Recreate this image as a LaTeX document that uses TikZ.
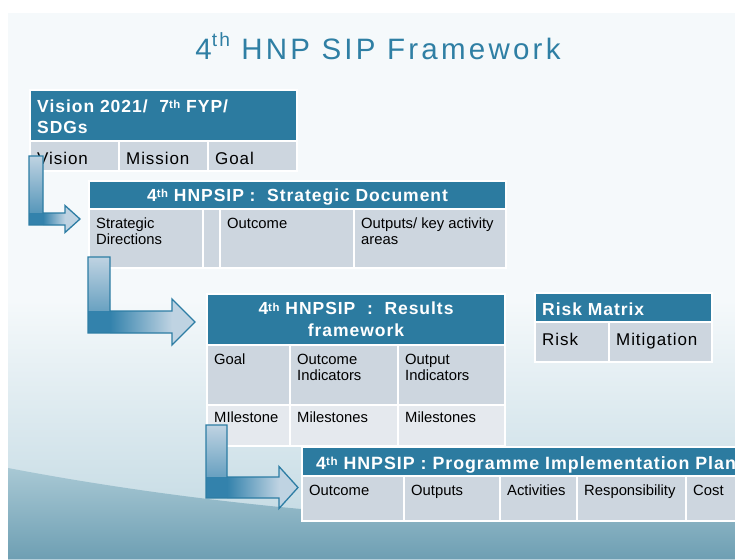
\documentclass[tikz,border=0pt]{standalone}
\usepackage{fontspec}
\usepackage{graphicx}
\setmainfont{Liberation Sans}
\newfontfamily\titlefamily{Liberation Sans}[LetterSpace=11]
\newfontfamily\spacedfamily{Liberation Sans}[LetterSpace=5.5]

\definecolor{hnpteal}{HTML}{2C7BA0}
\definecolor{titleteal}{HTML}{2F7FA4}
\definecolor{cellgray}{HTML}{CDD6DF}
\definecolor{cellpale}{HTML}{E5E9EE}
\definecolor{arrowdark}{HTML}{3382AC}
\definecolor{arrowlight}{HTML}{BFD3E2}
\definecolor{arrowedge}{HTML}{2D7DA4}
\definecolor{slidebg}{HTML}{F5F9FB}
\definecolor{wavepale}{HTML}{BDD6E0}
\definecolor{wavetop}{HTML}{A8C8D4}
\definecolor{wavebottom}{HTML}{6E9FB3}

% small raised "th"
\newcommand{\supth}[1][0.2]{\raisebox{#1em}{\scalebox{0.65}{th}}}

% bent arrow: stem left x, stem right x, stem top y, bar top y, bar bottom y,
% head base x, tip x, half head height
\newcommand{\bentarrow}[8]{%
  \filldraw[bent, path picture={
      \shade[top color=arrowlight, bottom color=arrowdark] (#1,#3) rectangle (#2,#4);
      \fill[arrowdark] (#1,#4) rectangle (#2,#5);
      \shade[left color=arrowdark, right color=arrowlight] (#2,#4) rectangle (#6,#5);}]
    (#1,#3) -- (#2,#3) -- (#2,#4) -- (#6,#4) -- (#6,{(#4+#5)/2-#8})
    -- (#7,{(#4+#5)/2}) -- (#6,{(#4+#5)/2+#8}) -- (#6,#5) -- (#1,#5) -- cycle;}

\begin{document}
\begin{tikzpicture}[x=1pt, y=-1pt,
    box/.style={draw=white, line width=2pt, outer sep=0pt, inner sep=0pt, anchor=north west},
    hdr/.style 2 args={box, fill=hnpteal, minimum width=#1pt, minimum height=#2pt, text=white,
      font=\spacedfamily\bfseries\fontsize{17.5}{21.7}\selectfont},
    cell/.style 2 args={box, fill=cellgray, minimum width=#1pt, minimum height=#2pt},
    pale/.style={fill=cellpale},
    txt/.style={anchor=north west, inner xsep=7pt, inner ysep=8.5pt, align=left,
      font=\fontsize{14.8}{16.5}\selectfont},
    bigtxt/.style={txt, inner ysep=10.5pt, font=\spacedfamily\fontsize{17}{20}\selectfont},
    hdrtxt/.style={anchor=north west, inner xsep=7pt, inner ysep=9.2pt, align=left, text=white,
      font=\spacedfamily\bfseries\fontsize{17.5}{21.7}\selectfont},
    bent/.style={fill=arrowlight, draw=arrowedge, line width=1.3pt}]

  \useasboundingbox (0,0) rectangle (735,559);
  \clip (0,0) rectangle (735,559);

  % slide background
  \fill[white] (0,0) rectangle (735,559);
  \fill[slidebg] (8,13) rectangle (735,559);
  \shade[top color=slidebg, bottom color=wavepale] (8,300) rectangle (735,559);
  \shade[top color=wavetop, bottom color=wavebottom]
    (8,468) .. controls (150,495) and (420,535) .. (735,518) -- (735,559) -- (8,559) -- cycle;

  \node[font=\titlefamily\fontsize{29.5}{34}\selectfont, text=titleteal, anchor=base] (title)
    at (378,60) {4\supth[0.45] HNP SIP Framework};

  % vision / FYP / SDGs
  \node[hdr={267}{51}, label={[hdrtxt]north west:{Vision 2021/\ \ 7\supth{} FYP/\\SDGs}}] (vishead) at (30,90) {};
  \node[cell={89}{30}, label={[bigtxt]north west:Vision}] (vision) at (30,141) {};
  \node[cell={89}{30}, label={[bigtxt]north west:Mission}] (mission) at (119,141) {};
  \node[cell={89}{30}, label={[bigtxt]north west:Goal}] (visgoal) at (208,141) {};

  % strategic document
  \node[hdr={417}{28}, text depth=0pt] (strathead) at (89,181) {4\supth{} HNPSIP :~~Strategic Document};
  \node[cell={114}{59}, label={[txt]north west:{Strategic\\Directions}}] (stratdir) at (89,209) {};
  \node[cell={17}{59}] (stratgap) at (203,209) {};
  \node[cell={134}{59}, label={[txt]north west:Outcome}] (stratout) at (220,209) {};
  \node[cell={152}{59}, label={[txt]north west:{Outputs/ key activity\\areas}}] (stratkey) at (354,209) {};

  % results framework
  \node[hdr={298}{51}, align=center] (reshead) at (207,294) {4\supth{} HNPSIP~~:~~Results\\framework};
  \node[cell={83}{60}, label={[txt]north west:Goal}] (resgoal) at (207,345) {};
  \node[cell={108}{60}, label={[txt]north west:{Outcome\\Indicators}}] (resoutcome) at (290,345) {};
  \node[cell={107}{60}, label={[txt]north west:{Output\\Indicators}}] (resoutput) at (398,345) {};
  \node[cell={83}{41}, pale, label={[txt, inner ysep=7pt]north west:MIlestone}] (mile1) at (207,405) {};
  \node[cell={108}{41}, pale, label={[txt, inner ysep=7pt]north west:Milestones}] (mile2) at (290,405) {};
  \node[cell={107}{41}, pale, label={[txt, inner ysep=7pt]north west:Milestones}] (mile3) at (398,405) {};

  % risk matrix
  \node[hdr={177}{29}, label={[hdrtxt]north west:Risk Matrix}] (riskhead) at (535,293) {};
  \node[cell={74}{40}, label={[bigtxt]north west:Risk}] (risk) at (535,322) {};
  \node[cell={103}{40}, label={[bigtxt]north west:Mitigation}] (mitigation) at (609,322) {};

  % programme implementation plan
  \node[hdr={460}{29}, label={[hdrtxt, inner xsep=14pt, font=\spacedfamily\bfseries\fontsize{17.8}{21.7}\selectfont]north west:{4\supth{} HNPSIP : Programme Implementation Plan}}] (planhead) at (302,447) {};
  \node[cell={102}{45}, label={[txt]north west:Outcome}] (planout) at (302,476) {};
  \node[cell={96}{45}, label={[txt]north west:Outputs}] (planoutputs) at (404,476) {};
  \node[cell={77}{45}, label={[txt]north west:Activities}] (planact) at (500,476) {};
  \node[cell={109}{45}, label={[txt]north west:Responsibility}] (planresp) at (577,476) {};
  \node[cell={74}{45}, label={[txt]north west:Cost}] (plancost) at (686,476) {};

  % bent arrows between the levels
  \bentarrow{29}{43}{156}{213}{225}{65}{80}{13.5}
  \bentarrow{88}{110}{257}{311}{333}{172}{195}{23}
  \bentarrow{206}{227}{425}{477}{498}{279}{298}{21}
\end{tikzpicture}
\end{document}
